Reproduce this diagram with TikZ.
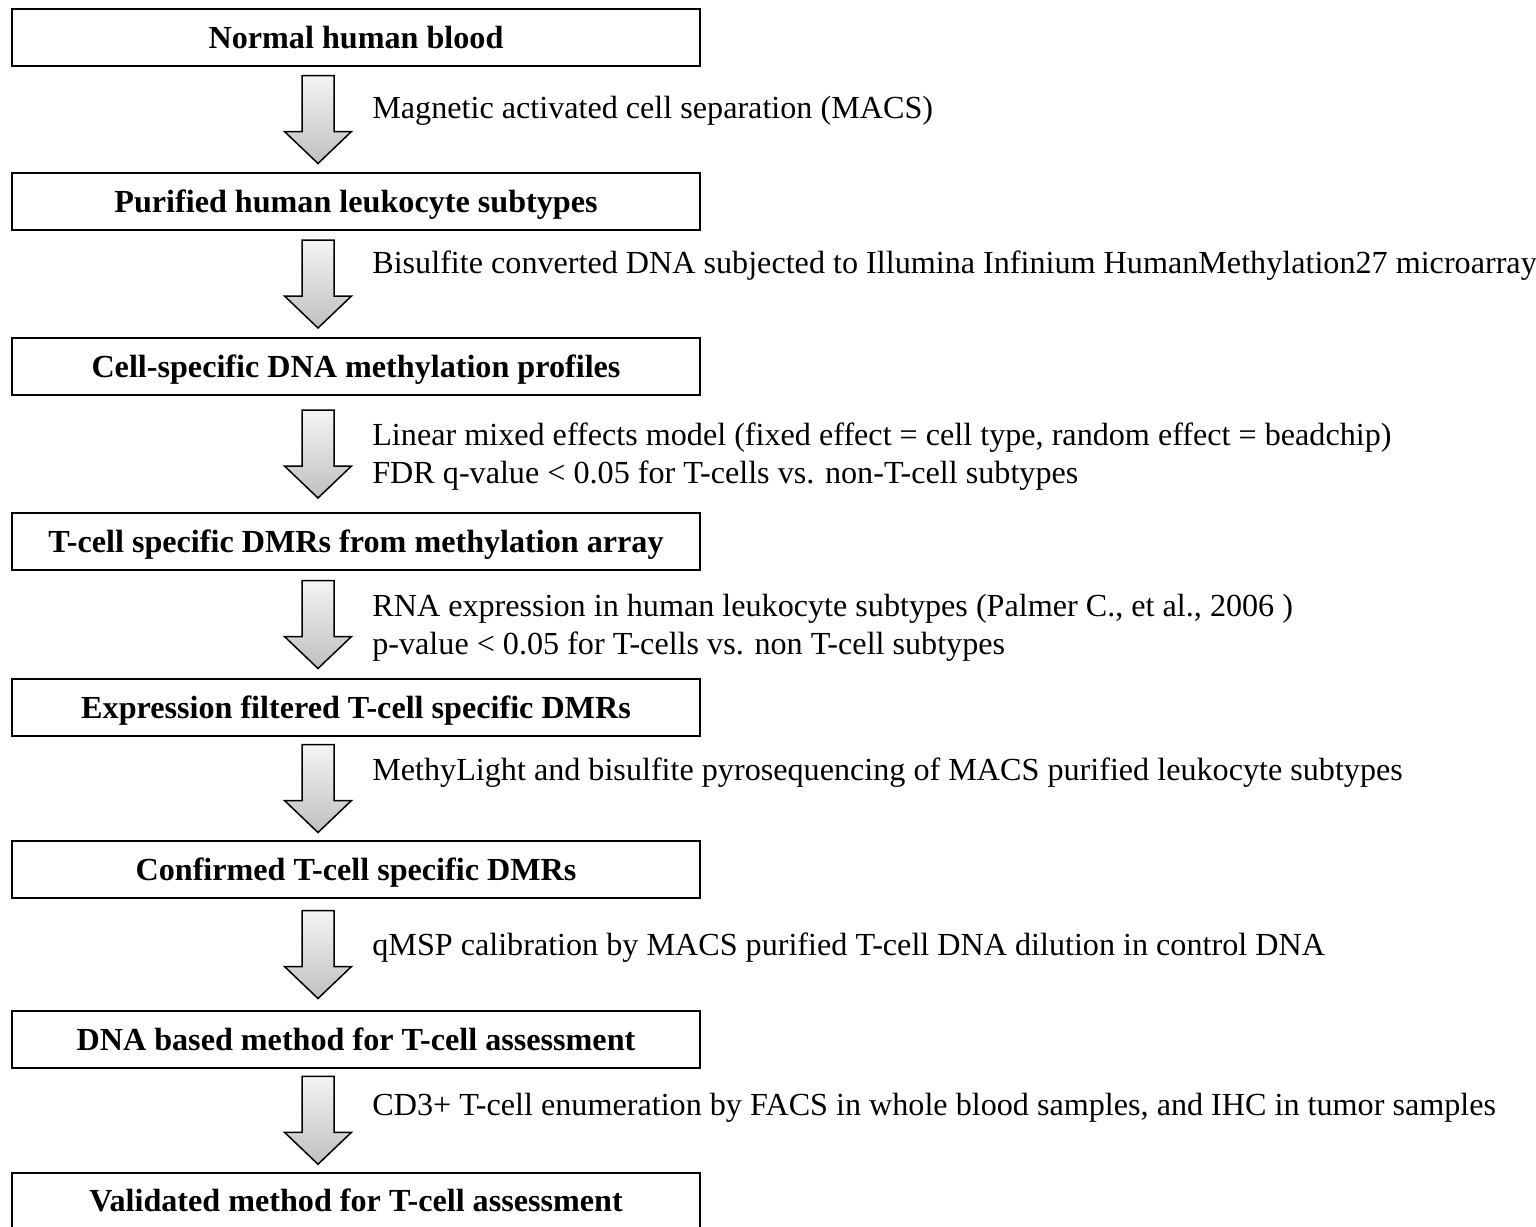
\documentclass[tikz,border=0pt]{standalone}
\usepackage{fontspec}
\setmainfont{Liberation Serif}
\usetikzlibrary{calc}

\tikzset{
  stage/.style={draw, line width=0.04cm, minimum width=13.78cm, minimum height=1.14cm, inner sep=0pt,
    font=\fontsize{18.3}{21.6}\selectfont\bfseries, text height=12.1pt, text depth=0pt},
  note/.style={anchor=base west, inner sep=0pt, align=left, font=\fontsize{18.3}{21.6}\selectfont},
  blockarrow/.style={draw, line width=0.03cm, top color=gray!8, bottom color=gray!50}
}

\begin{document}
\begin{tikzpicture}[x=0.02cm, y=-0.02cm]
  \clip (0,0) rectangle (1536,1227);
  \node[stage] (blood) at (356,37.5) {Normal human blood};
  \node[stage] (subtypes) at (356,201.5) {Purified human leukocyte subtypes};
  \node[stage] (profiles) at (356,366.5) {Cell-specific DNA methylation profiles};
  \node[stage] (arraydmr) at (356,541.5) {T-cell specific DMRs from methylation array};
  \node[stage] (filtered) at (356,707.5) {Expression filtered T-cell specific DMRs};
  \node[stage] (confirmed) at (356,869.5) {Confirmed T-cell specific DMRs};
  \node[stage] (dnamethod) at (356,1039.5) {DNA based method for T-cell assessment};
  \node[stage] (validated) at (356,1201) {Validated method for T-cell assessment};

  \foreach \a/\b in {blood/subtypes, subtypes/profiles, profiles/arraydmr, arraydmr/filtered,
                     filtered/confirmed, confirmed/dnamethod, dnamethod/validated}
    \draw[blockarrow] ($(\a.south)!0.5!(\b.north)+(-38,0)$) ++(-16,-44) -- ++(32,0) -- ++(0,56)
      -- ++(17.5,0) -- ++(-33.5,32) -- ++(-33.5,-32) -- ++(17.5,0) -- cycle;

  \node[note] (macs) at (372,118) {Magnetic activated cell separation (MACS)};
  \node[note] (infinium) at (372,273) {Bisulfite converted DNA subjected to Illumina Infinium HumanMethylation27 microarray};
  \node[note] (lmem) at (372,483) {Linear mixed effects model (fixed effect = cell type, random effect = beadchip)\\
    FDR q-value < 0.05 for T-cells vs. non-T-cell subtypes};
  \node[note] (rnaexpr) at (372,654) {RNA expression in human leukocyte subtypes (Palmer C., et al., 2006 )\\
    p-value < 0.05 for T-cells vs. non T-cell subtypes};
  \node[note] (pyroseq) at (372,780) {MethyLight and bisulfite pyrosequencing of MACS purified leukocyte subtypes};
  \node[note] (qmsp) at (372,955) {qMSP calibration by MACS purified T-cell DNA dilution in control DNA};
  \node[note] (facs) at (372,1115) {CD3+ T-cell enumeration by FACS in whole blood samples, and IHC in tumor samples};
\end{tikzpicture}
\end{document}
